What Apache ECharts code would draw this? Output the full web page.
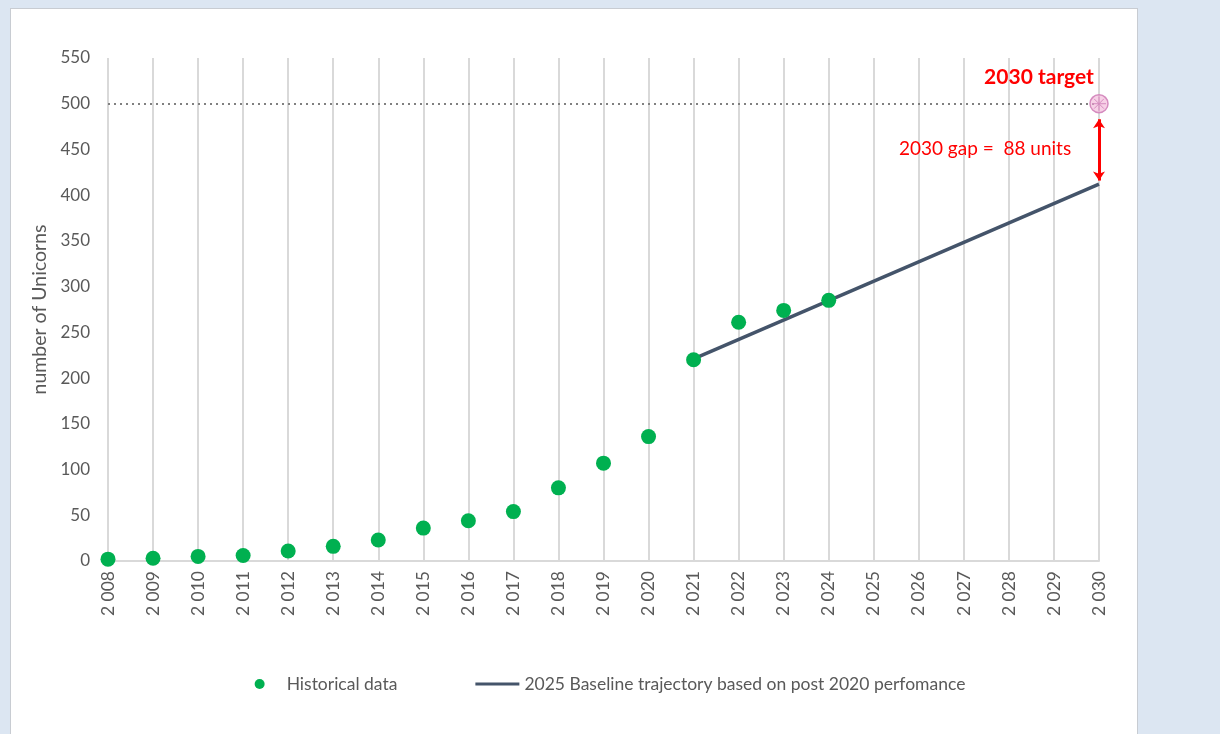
<!DOCTYPE html>
<html>
<head>
<meta charset="utf-8">
<script src="https://cdn.jsdelivr.net/npm/echarts@6/dist/echarts.min.js"></script>
<style>
html,body{margin:0;padding:0;background:#dce6f2;}
#panel{position:absolute;left:10px;top:8px;width:1128px;height:740px;background:#fff;border:1px solid #c8ccd2;box-sizing:border-box;}
#chart{position:absolute;left:0;top:0;width:1220px;height:734px;}
</style>
</head>
<body>
<div id="panel"></div>
<div id="chart"></div>
<script>
const years = ['2008','2009','2010','2011','2012','2013','2014','2015','2016','2017','2018','2019','2020','2021','2022','2023','2024','2025','2026','2027','2028','2029','2030'];
const historicalYears = ['2008','2009','2010','2011','2012','2013','2014','2015','2016','2017','2018','2019','2020','2021','2022','2023','2024'];
const historicalValues = [2, 3, 5, 6, 11, 16, 23, 36, 44, 54, 80, 107, 136, 220, 261, 274, 285];
const baselineYears = ['2021','2030'];
const baselineValues = [221, 412];
const targetYear = '2030';
const targetValue = 500;
const gapValue = 88;
const yTicks = {min: 0, max: 550, interval: 50};

const FONT = 'Lato';
const GREY = '#595959';
const chart = echarts.init(document.getElementById('chart'));
const fmtYear = v => v.slice(0,1) + ' ' + v.slice(1);

chart.setOption({
  animation: false,
  textStyle: {fontFamily: FONT},
  grid: {left: 108, right: 121, top: 58, bottom: 173},
  legend: {
    bottom: 36, left: 'center',
    itemWidth: 44, itemHeight: 10, itemGap: 78,
    textStyle: {color: GREY, fontSize: 17.5, fontFamily: FONT},
    data: [
      {name: 'Historical data', icon: 'circle', itemStyle: {color: '#00b050', opacity: 1}},
      {name: '2025 Baseline trajectory based on post 2020 perfomance',
       icon: 'path://M0 0 L0.01 0 M0 3.4 L44 3.4 L44 6.6 L0 6.6 Z M0 10 L0.01 10',
       itemStyle: {color: '#44546a', borderWidth: 0}}
    ]
  },
  xAxis: {
    type: 'category', data: years, boundaryGap: false,
    axisLine: {lineStyle: {color: '#d9d9d9', width: 2}},
    axisTick: {show: false},
    axisLabel: {rotate: 90, color: GREY, fontSize: 17.5, margin: 10, interval: 0, formatter: fmtYear},
    splitLine: {show: true, interval: 0, lineStyle: {color: '#d9d9d9', width: 2}}
  },
  yAxis: {
    type: 'value', min: yTicks.min, max: yTicks.max, interval: yTicks.interval,
    name: 'number of Unicorns', nameLocation: 'middle', nameGap: 56,
    nameTextStyle: {color: GREY, fontSize: 19.5},
    axisLine: {show: false}, axisTick: {show: false},
    axisLabel: {color: GREY, fontSize: 17, margin: 18},
    splitLine: {show: false}
  },
  series: [
    {
      name: 'Historical data', type: 'scatter', symbolSize: 15,
      itemStyle: {color: '#00b050', opacity: 1}, z: 4,
      data: historicalYears.map((y, i) => [y, historicalValues[i]])
    },
    {
      name: '2025 Baseline trajectory based on post 2020 perfomance', type: 'line',
      symbol: 'none', lineStyle: {color: '#44546a', width: 3.5}, itemStyle: {color: '#44546a'}, z: 3,
      data: baselineYears.map((y, i) => [y, baselineValues[i]]),
      markLine: {
        silent: true, symbol: ['arrow', 'arrow'], symbolSize: [9, 9],
        lineStyle: {color: '#ff0000', width: 3, type: 'solid'},
        label: {show: false},
        data: [[{coord: [targetYear, targetValue - 17]}, {coord: [targetYear, targetValue - gapValue + 4]}]]
      }
    },
    {
      name: 'target', type: 'scatter', symbol: 'circle', symbolSize: 18, z: 5,
      itemStyle: {color: 'rgba(240,170,210,0.55)', borderColor: '#d58bbf', borderWidth: 1.5, opacity: 1},
      data: [[targetYear, targetValue]],
      markLine: {
        silent: true, symbol: 'none',
        lineStyle: {color: '#808080', width: 2, type: [2, 4]},
        label: {show: false},
        data: [{yAxis: targetValue}]
      },
      markPoint: {
        silent: true, symbol: 'circle', symbolSize: 1, itemStyle: {color: 'rgba(0,0,0,0)'},
        data: [
          {coord: [targetYear, targetValue], label: {show: true, formatter: '2030 target', color: '#ff0000', fontWeight: 'bold', fontSize: 21, fontFamily: FONT, offset: [-60, -26], align: 'center', verticalAlign: 'middle'}},
          {coord: [targetYear, targetValue], label: {show: true, formatter: '2030 gap =  ' + gapValue + ' units', color: '#ff0000', fontSize: 19, fontFamily: FONT, offset: [-114, 45], align: 'center', verticalAlign: 'middle'}}
        ]
      }
    },
    {
      name: 'targetCross', type: 'scatter', z: 6, silent: true,
      symbol: 'path://M10 0 L10 20 M0 10 L20 10 M3 3 L17 17 M17 3 L3 17',
      symbolSize: 14,
      itemStyle: {color: 'none', borderColor: '#d58bbf', borderWidth: 1, opacity: 1},
      data: [[targetYear, targetValue]]
    }
  ]
});
</script>
</body>
</html>
